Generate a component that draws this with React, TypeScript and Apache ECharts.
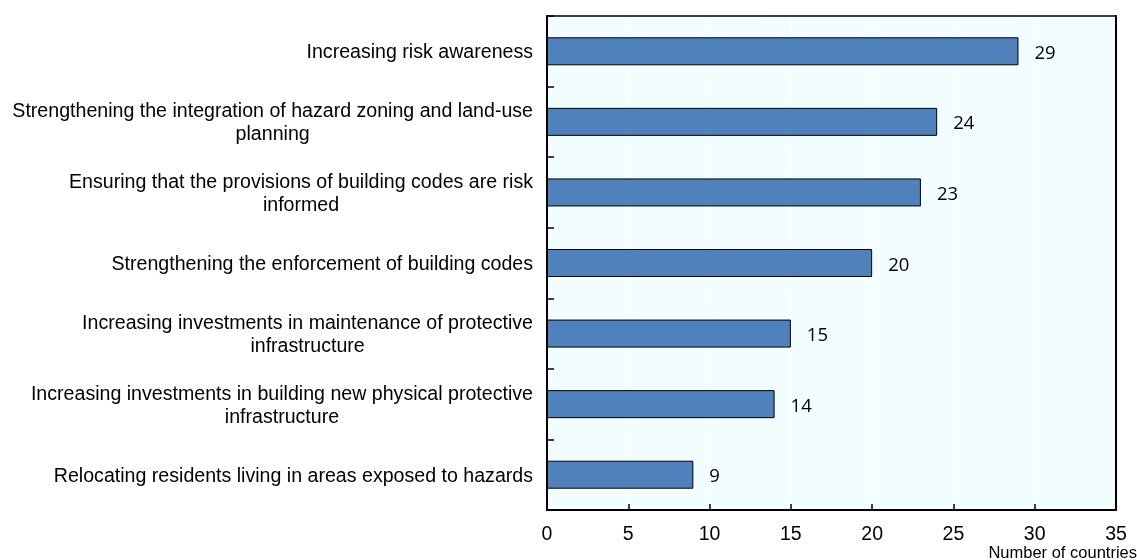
import React, { useEffect, useRef } from "react";
import * as echarts from "echarts";

const categories = [
  "Increasing risk awareness",
  "Strengthening the integration of hazard zoning and land-use\nplanning",
  "Ensuring that the provisions of building codes are risk\ninformed",
  "Strengthening the enforcement of building codes",
  "Increasing investments in maintenance of protective\ninfrastructure",
  "Increasing investments in building new physical protective\ninfrastructure",
  "Relocating residents living in areas exposed to hazards",
];
const values = [29, 24, 23, 20, 15, 14, 9];
const xTicks = { min: 0, max: 35, interval: 5 };
const xAxisName = "Number of countries";

export default function App() {
  const ref = useRef<HTMLDivElement>(null);
  useEffect(() => {
    if (!ref.current) return;
    const chart = echarts.init(ref.current, undefined, { renderer: "svg" });
    const frameAxis = {
      axisTick: { show: false },
      axisLabel: { show: false },
      splitLine: { show: false },
    };
    chart.setOption({
      animation: false,
      grid: {
        left: 547,
        top: 16,
        right: 21,
        bottom: 50,
        outerBoundsMode: "none",
        containLabel: false,
        show: true,
        backgroundColor: "#f2fdff",
        borderWidth: 0,
      },
      xAxis: [
        {
          type: "value",
          min: xTicks.min,
          max: xTicks.max,
          interval: xTicks.interval,
          name: xAxisName,
          nameLocation: "end",
          nameGap: 0,
          nameTextStyle: {
            fontFamily: "Liberation Sans",
            fontSize: 16.5,
            color: "#000",
            align: "right",
            verticalAlign: "top",
            padding: [33, -21, 0, 0],
          },
          axisLine: { show: true, lineStyle: { color: "#000", width: 2 } },
          axisTick: { show: true, inside: true, length: 6, lineStyle: { color: "#000", width: 1.5 } },
          axisLabel: {
            fontFamily: "Liberation Sans",
            fontSize: 19.5,
            color: "#000",
            margin: 13,
          },
          splitLine: { show: true, lineStyle: { color: "#ffffff", width: 1.5 } },
          z: 2,
        },
        {
          type: "value",
          position: "top",
          min: xTicks.min,
          max: xTicks.max,
          interval: xTicks.interval,
          axisLine: { show: true, onZero: false, lineStyle: { color: "#000", width: 1.5 } },
          ...frameAxis,
          z: 3,
        },
      ],
      yAxis: [
        {
          type: "category",
          data: categories,
          inverse: true,
          axisLine: { show: true, lineStyle: { color: "#000", width: 2 } },
          axisTick: { show: true, inside: true, length: 7, lineStyle: { color: "#000", width: 1.5 } },
          splitLine: { show: false },
          axisLabel: {
            margin: 14,
            formatter: (v: string) => v.split("\n").map((s) => `{c|${s}}`).join("\n"),
            rich: {
              c: {
                align: "center",
                fontFamily: "Liberation Sans",
                fontSize: 19.6,
                lineHeight: 23,
                color: "#000",
              },
            },
          },
          z: 3,
        },
        {
          type: "value",
          position: "right",
          min: 0,
          max: 1,
          axisLine: { show: true, onZero: false, lineStyle: { color: "#000", width: 2 } },
          ...frameAxis,
          z: 3,
        },
      ],
      series: [
        {
          type: "bar",
          xAxisIndex: 0,
          yAxisIndex: 0,
          data: values,
          barWidth: 28,
          z: 4,
          itemStyle: { color: "#4f81bd", borderColor: "#000", borderWidth: 1 },
          label: {
            show: true,
            position: "right",
            distance: 16,
            fontFamily: "Open Sans",
            fontSize: 18.5,
            color: "#000",
          },
        },
      ],
    });
    return () => chart.dispose();
  }, []);
  return (
    <div
      ref={ref}
      style={{ position: "fixed", left: 0, top: 0, width: 1137, height: 560 }}
    />
  );
}
